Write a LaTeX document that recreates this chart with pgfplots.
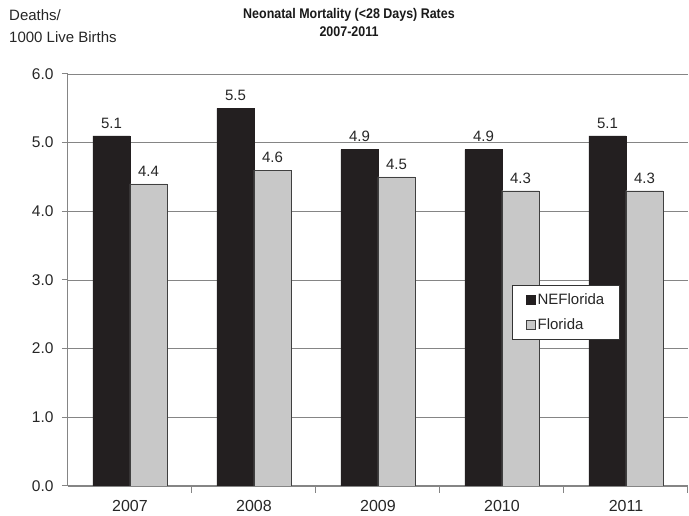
\documentclass[border=0pt]{standalone}
\usepackage{fontspec}
\setmainfont{Liberation Sans}
\usepackage{pgfplots}
\pgfplotsset{compat=1.18}

\definecolor{barblack}{HTML}{231F20}
\definecolor{bargray}{HTML}{C8C8C8}
\definecolor{gridgray}{HTML}{858585}

\begin{document}
\begin{tikzpicture}[x=1pt,y=1pt]
\path[use as bounding box] (-68,-30) rectangle (621,486);
\begin{axis}[
  at={(0,0)}, anchor=south west,
  scale only axis,
  width=620pt, height=412pt,
  ybar, ybar=0pt,
  bar width=37pt,
  xmin=-0.5, xmax=4.5,
  ymin=0, ymax=6,
  xtick={0,1,2,3,4},
  xticklabels={2007,2008,2009,2010,2011},
  minor xtick={0.5,1.5,2.5,3.5,4.5},
  ytick={0,1,2,3,4,5,6},
  yticklabel style={/pgf/number format/fixed, /pgf/number format/fixed zerofill,
    /pgf/number format/precision=1, xshift=-5pt, font=\fontsize{15.5}{18}\selectfont},
  /pgf/number format/assume math mode=true,
  ymajorgrids,
  grid style={gridgray, line width=0.9pt},
  axis lines*=left,
  axis line style={-, gridgray, line width=1pt},
  tick align=outside,
  major tick length=6pt,
  minor tick length=7pt,
  every tick/.style={gridgray, line width=1pt},
  x tick style={draw=none},
  minor x tick style={draw=gridgray, line width=1pt},
  tick label style={text=black!85},
  xticklabel style={yshift=-5pt, font=\fontsize{16}{18}\selectfont},
  nodes near coords,
  nodes near coords style={font=\fontsize{15}{18}\selectfont, text=black!85,
    /pgf/number format/fixed, /pgf/number format/fixed zerofill,
    /pgf/number format/precision=1,
    /pgf/number format/assume math mode=true},
  every node near coord/.append style={yshift=4pt},
  legend style={at={(0.890,0.488)}, anchor=north east,
    draw=black!80, line width=0.9pt,
    font=\fontsize{15}{18}\selectfont, text=black!85,
    inner xsep=13pt, inner ysep=6pt,
    row sep=9pt, cells={anchor=west}},
  legend image code/.code={
    \draw[#1, line width=1pt] (0pt,-4.5pt) rectangle (9pt,4.5pt);
  },
  legend cell align=left,
]
\addplot[fill=barblack, draw=barblack] coordinates {
  (0,5.1) (1,5.5) (2,4.9) (3,4.9) (4,5.1)
};
\addplot[fill=bargray, draw=black!75] coordinates {
  (0,4.4) (1,4.6) (2,4.5) (3,4.3) (4,4.3)
};
\legend{NEFlorida,Florida}
\end{axis}
\node[anchor=base, font=\bfseries\fontsize{14}{16}\selectfont, text=black!90, inner sep=0pt,
  transform shape, xscale=0.89]
  at (281,467) {Neonatal Mortality (<28 Days) Rates};
\node[anchor=base, font=\bfseries\fontsize{14}{16}\selectfont, text=black!90, inner sep=0pt,
  transform shape, xscale=0.89]
  at (281,449) {2007-2011};
\node[anchor=base west, font=\fontsize{15}{18}\selectfont, text=black!85, inner sep=0pt]
  at (-59,465) {Deaths/};
\node[anchor=base west, font=\fontsize{15}{18}\selectfont, text=black!85, inner sep=0pt]
  at (-59,443) {1000 Live Births};
\end{tikzpicture}
\end{document}
